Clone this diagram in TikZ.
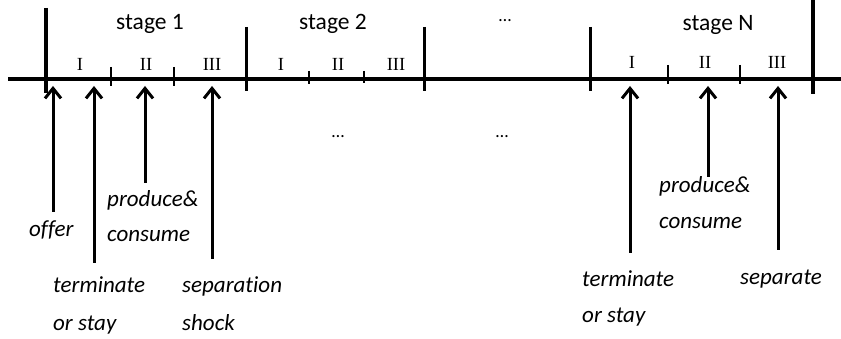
\documentclass[tikz,border=0pt]{standalone}
\usepackage{fontspec}
\setmainfont{Liberation Serif}
\newfontfamily\carl[Ligatures=NoCommon]{Carlito}
\usetikzlibrary{arrows.meta}
\tikzset{
  axis/.style={line width=3.5pt},
  bigbar/.style={line width=4pt},
  stagebar/.style={line width=3pt},
  tick/.style={line width=2pt},
  arr/.style={line width=3pt,-{Straight Barb[length=10pt,width=16pt]}},
  roman/.style={font=\fontsize{18.5}{18.5}\selectfont,anchor=base,inner sep=0pt},
  stagelab/.style={font=\carl\fontsize{23.5}{23.5}\selectfont,anchor=base,inner sep=0pt},
  evlab/.style={font=\carl\itshape\fontsize{23}{23}\selectfont,anchor=base west,inner sep=0pt},
  dots/.style={font=\carl\fontsize{18}{18}\selectfont,anchor=base,inner sep=0pt}
}
\begin{document}
\begin{tikzpicture}[x=1pt,y=-1pt]
\useasboundingbox (0,0) rectangle (841,339);
% axis
\coordinate (ax0) at (8,79);
\coordinate (ax1) at (841,79);
\draw[axis] (ax0) -- (ax1);
% stage bars
\draw[bigbar] (46,8) -- (46,93);
\draw[stagebar] (246,27) -- (246,91);
\draw[stagebar] (424,27) -- (424,91);
\draw[stagebar] (590,27) -- (590,91);
\draw[line width=4.5pt] (813,0) -- (813,94);
% sub ticks
\draw[tick] (111,67) -- (111,86);
\draw[tick] (174,67) -- (174,86);
\draw[tick] (309,71) -- (309,84);
\draw[tick] (364,71) -- (364,83);
\draw[tick] (668,65) -- (668,84);
\draw[tick] (740,65) -- (740,84);
% stage labels
\node[stagelab] (s1) at (150,30) {stage 1};
\node[stagelab] (s2) at (333,30) {stage 2};
\node[dots] (d0) at (505,22) {…};
\node[stagelab] (sN) at (718,31) {stage N};
% roman numerals
\node[roman] (r11) at (80,71) {I};
\node[roman] (r12) at (146,71) {II};
\node[roman] (r13) at (212,71) {III};
\node[roman] (r21) at (281,71) {I};
\node[roman] (r22) at (338,71) {II};
\node[roman] (r23) at (396,71) {III};
\node[roman] (rN1) at (632,69) {I};
\node[roman] (rN2) at (705,69) {II};
\node[roman] (rN3) at (777,69) {III};
% middle dots
\node[dots] (d1) at (338,138) {…};
\node[dots] (d2) at (502,138) {…};
% arrows
\coordinate (a1t) at (53,86);  \coordinate (a1b) at (53,212);
\coordinate (a2t) at (94,86);  \coordinate (a2b) at (94,263);
\coordinate (a3t) at (145,86); \coordinate (a3b) at (145,183);
\coordinate (a4t) at (212,86); \coordinate (a4b) at (212,259);
\coordinate (a5t) at (630,86); \coordinate (a5b) at (630,253);
\coordinate (a6t) at (708,86); \coordinate (a6b) at (708,177);
\coordinate (a7t) at (778,86); \coordinate (a7b) at (778,250);
\foreach \i in {1,...,7} { \draw[arr] (a\i b) -- (a\i t); }
% event labels
\node[evlab] (offer) at (29,237) {offer};
\node[evlab] (pc1a) at (107,207) {produce\&};
\node[evlab] (pc1b) at (107,242) {consume};
\node[evlab] (ts1a) at (53,293) {terminate};
\node[evlab] (ts1b) at (53,330) {or stay};
\node[evlab] (sp1a) at (182,293) {separation};
\node[evlab] (sp1b) at (182,330) {shock};
\node[evlab] (tsNa) at (582,287) {terminate};
\node[evlab] (tsNb) at (582,323) {or stay};
\node[evlab] (pcNa) at (659,193) {produce\&};
\node[evlab] (pcNb) at (659,229) {consume};
\node[evlab] (sepN) at (740,284) {separate};
\end{tikzpicture}
\end{document}
